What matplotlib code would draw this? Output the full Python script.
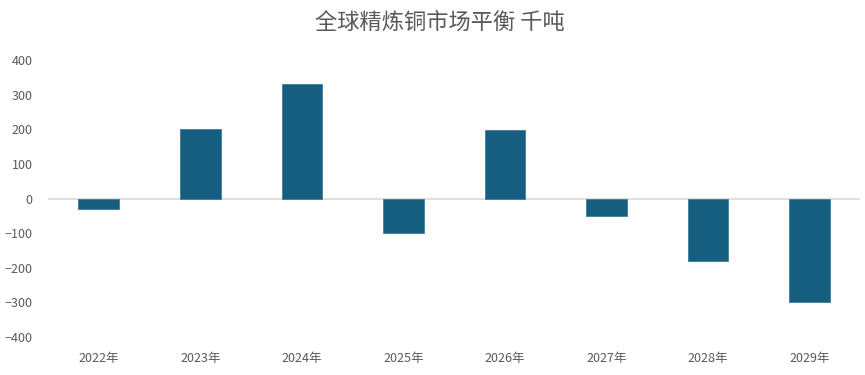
import matplotlib
matplotlib.use("Agg")
import matplotlib.pyplot as plt

plt.rcParams['font.family'] = ['Noto Sans CJK SC', 'DejaVu Sans']

years = ["2022年", "2023年", "2024年", "2025年", "2026年", "2027年", "2028年", "2029年"]
balance = [-30, 200, 330, -100, 198, -50, -180, -300]

fig = plt.figure(figsize=(8.65, 3.75), dpi=100)
ax = fig.add_axes([0.0555, 0.101, 0.939, 0.739])

x = range(len(years))
ax.bar(x, balance, width=0.4, color="#165e80", edgecolor="#3d7d9c", linewidth=0.6, zorder=3)
ax.axhline(0, color="#d9d9d9", linewidth=1.2, zorder=2)

ax.set_xlim(-0.5, len(years) - 0.5)
ax.set_ylim(-400, 400)
ax.set_yticks(range(-400, 401, 100))
ax.set_xticks(list(x))
ax.set_xticklabels(years)
ax.tick_params(axis="both", length=0, colors="#595959", labelsize=9)
ax.tick_params(axis="x", pad=11)
ax.tick_params(axis="y", pad=11)
for s in ax.spines.values():
    s.set_visible(False)

fig.text(0.508, 0.94, "全球精炼铜市场平衡 千吨", ha="center", va="center",
         fontsize=16, color="#595959")

fig.savefig("out.png", dpi=100)
